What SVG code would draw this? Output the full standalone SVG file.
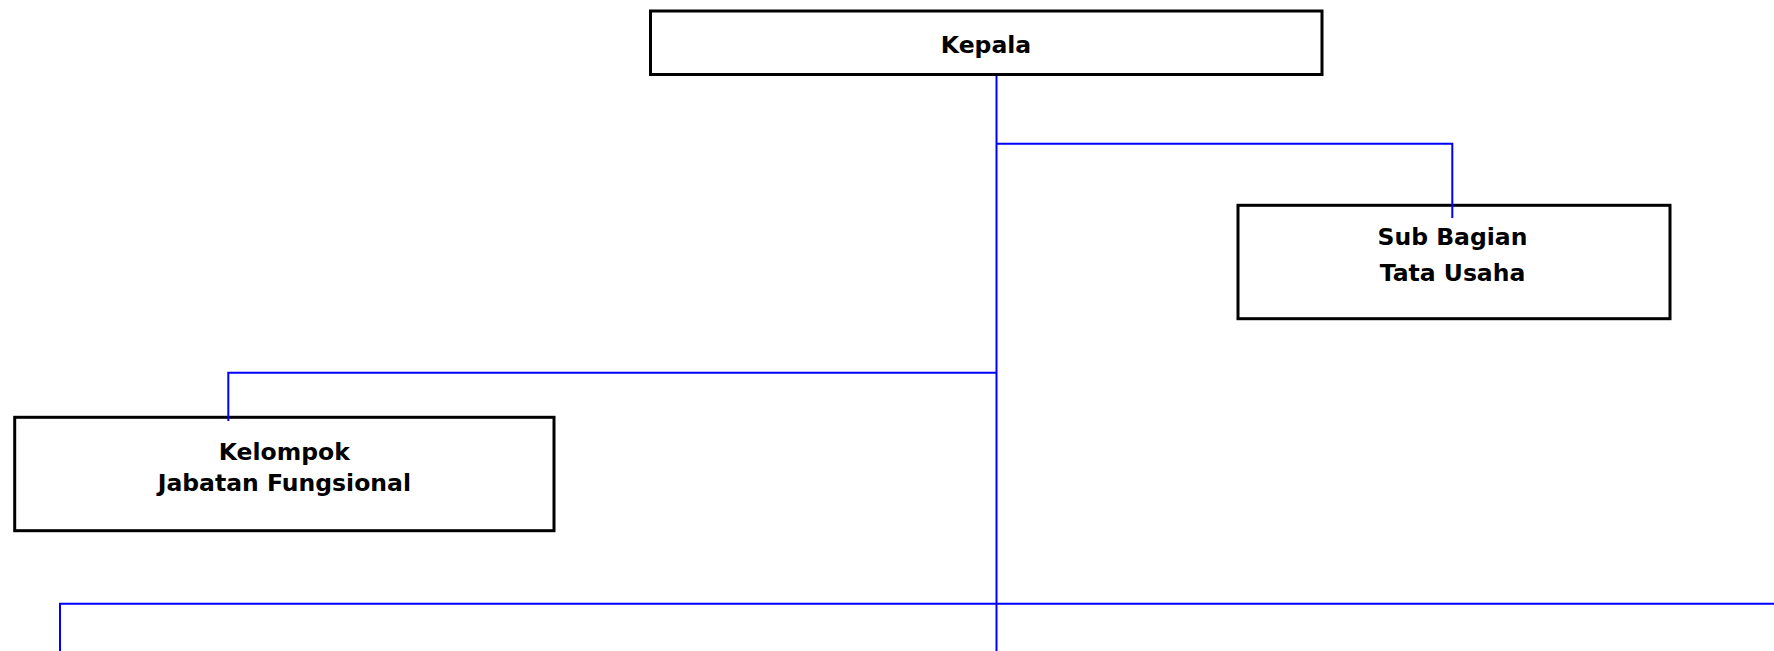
<svg xmlns="http://www.w3.org/2000/svg" width="1774" height="651" viewBox="0 0 1774 651">
<style>
.box{fill:#fff;stroke:#000;stroke-width:3}
.lbl{font-family:"DejaVu Sans",Verdana,sans-serif;font-weight:bold;font-size:23.5px;fill:#000;text-anchor:middle}
.con{fill:none;stroke:#0000ff;stroke-width:2}
</style>
<rect width="1774" height="651" fill="#fff"/>
<g id="kepala">
<rect class="box" x="650.5" y="11" width="671.5" height="63.5"/>
<text class="lbl" x="986" y="52.7">Kepala</text>
</g>
<g id="sub-bagian">
<rect class="box" x="1238" y="205.3" width="432" height="113.4"/>
<text class="lbl" x="1452.5" y="245">Sub Bagian</text>
<text class="lbl" x="1452.5" y="280.7">Tata Usaha</text>
</g>
<g id="kelompok">
<rect class="box" x="14.7" y="417.3" width="539.3" height="113.4"/>
<text class="lbl" x="284.3" y="460">Kelompok</text>
<text class="lbl" x="284.3" y="490.7">Jabatan Fungsional</text>
</g>
<g id="connectors">
<path class="con" d="M996.5 76 V651"/>
<path class="con" d="M996.5 143.7 H1452.3 V218"/>
<path class="con" d="M996.5 372.8 H228.3 V421"/>
<path class="con" d="M1774 603.7 H60 V651"/>
</g>
</svg>
